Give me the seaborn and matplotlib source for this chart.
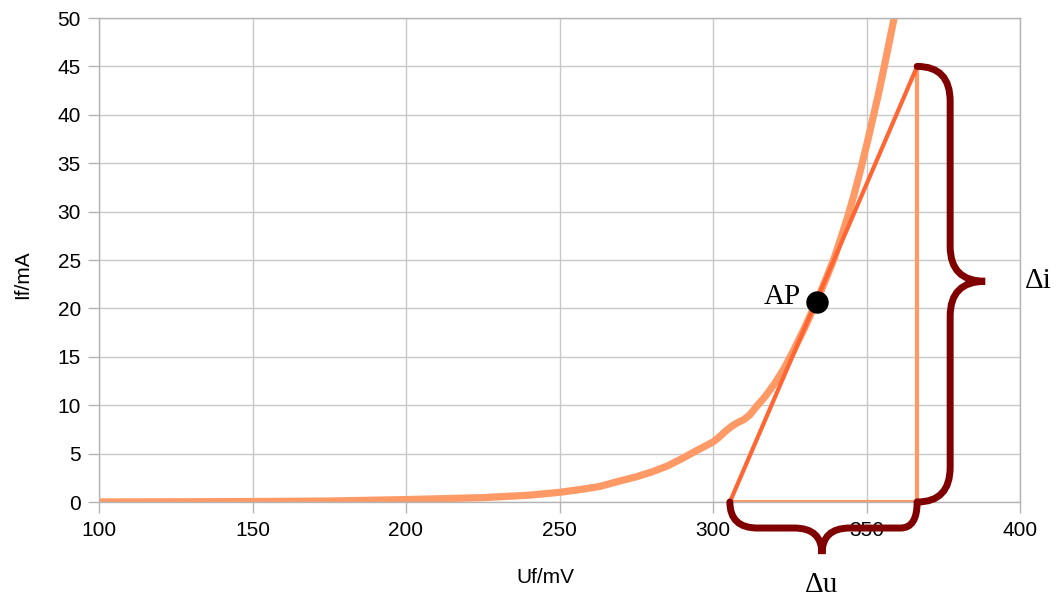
import numpy as np
import pandas as pd
import seaborn as sns
import matplotlib.pyplot as plt
from matplotlib.path import Path
from matplotlib.patches import PathPatch

# diode characteristic
u_mv = [100, 125, 150, 175, 200, 225, 240, 250, 257, 263, 270, 275, 280, 285, 290,
        294, 297, 300, 302, 304, 306, 308, 310, 312, 314, 317, 320, 323, 326, 330,
        334, 337, 339.5, 342, 344, 346, 348.3, 350.3, 352.2, 354, 355.8, 357.4, 359,
        361.5]
i_ma = [0, 0.02, 0.05, 0.1, 0.25, 0.45, 0.7, 1.0, 1.3, 1.6, 2.2, 2.6, 3.1, 3.7, 4.5,
        5.2, 5.7, 6.2, 6.7, 7.3, 7.8, 8.2, 8.5, 9.0, 9.8, 10.9, 12.2, 13.7, 15.5, 18.1,
        20.9, 23.2, 25.2, 27.6, 29.6, 31.8, 34.6, 37.2, 39.8, 42.3, 45.0, 47.5, 50.0,
        54.2]

# tangent triangle and operating point
tri_u = [305.5, 366.5]
tri_i = [0, 45]
ap_u, ap_i = 334, 20.7

curve_col = "#FF9966"
tan_col = "#FF6633"
brace_col = "#800000"

sns.set_style("whitegrid", {"grid.color": "#C8C8C8", "axes.edgecolor": "#B4B4B4",
                            "text.color": "black", "xtick.color": "black",
                            "ytick.color": "black", "axes.labelcolor": "black"})
plt.rcParams["font.family"] = ["Liberation Sans", "DejaVu Sans"]

fig = plt.figure(figsize=(10.58, 6.04), dpi=100)
ax = fig.add_axes([99 / 1058, 102 / 604, 921 / 1058, 484 / 604])

df = pd.DataFrame({"u": u_mv, "i": i_ma})
sns.lineplot(data=df, x="u", y="i", ax=ax, color=curve_col, lw=5.2,
             estimator=None, sort=False, solid_capstyle="round", solid_joinstyle="round")

# triangle: horizontal, vertical, tangent
ax.plot([tri_u[0], tri_u[1]], [tri_i[0], tri_i[0]], color=curve_col, lw=3)
ax.plot([tri_u[1], tri_u[1]], [tri_i[0], tri_i[1]], color=curve_col, lw=3)
ax.plot(tri_u, tri_i, color=tan_col, lw=3)

ax.scatter([ap_u], [ap_i], s=230, color="black", zorder=5)

ax.set_xlim(100, 400)
ax.set_ylim(0, 50)
ax.set_xticks(range(100, 401, 50))
ax.set_yticks(range(0, 51, 5))
ax.tick_params(axis="both", labelsize=15, length=8, width=1, color="#B4B4B4",
               left=True, bottom=True)
ax.tick_params(axis="x", pad=6)
ax.tick_params(axis="y", pad=5)
for s in ax.spines.values():
    s.set_linewidth(1)
ax.grid(True, lw=1)
ax.set_xlabel("Uf/mV", fontsize=15)
ax.set_ylabel("If/mA", fontsize=15)
ax.xaxis.set_label_coords(0.485, -0.136)
ax.yaxis.set_label_coords(-0.073, 0.469)

# braces (data coords derived from triangle)
x0, x1 = tri_u
y1 = tri_i[1]
px = 1 / 3.07   # mV per pixel
py = 1 / 9.67   # mA per pixel

bx = x1 + 33 * px
tip = x1 + 68 * px
ym = 22.8
r = 3.6
verts = [(x1, y1), (bx, y1), (bx, y1 - r), (bx, y1 - 2 * r),
         (bx, ym + r), (bx, ym), (tip, ym),
         (bx, ym), (bx, ym - r),
         (bx, r), (bx, 0), (x1, 0)]
codes = [Path.MOVETO, Path.CURVE3, Path.CURVE3, Path.LINETO,
         Path.LINETO, Path.CURVE3, Path.CURVE3,
         Path.CURVE3, Path.CURVE3,
         Path.LINETO, Path.CURVE3, Path.CURVE3]
ax.add_patch(PathPatch(Path(verts, codes), fill=False, ec=brace_col, lw=5,
                       clip_on=False, capstyle="round", zorder=4))

by = -26 * py
tipy = -52 * py
xm = 335.5
rx = 9
verts = [(x0, 0), (x0, by), (x0 + rx, by), (xm - rx, by),
         (xm, by), (xm, tipy), (xm, by), (xm + rx, by),
         (x1 - rx * 0.6, by), (x1, by), (x1, 0)]
codes = [Path.MOVETO, Path.CURVE3, Path.CURVE3, Path.LINETO,
         Path.CURVE3, Path.CURVE3, Path.CURVE3, Path.CURVE3,
         Path.LINETO, Path.CURVE3, Path.CURVE3]
ax.add_patch(PathPatch(Path(verts, codes), fill=False, ec=brace_col, lw=5,
                       clip_on=False, capstyle="round", zorder=4))

serif = ["Liberation Serif", "DejaVu Serif"]
ax.text(ap_u - 17 * px, ap_i + 0.5, "AP", family=serif, fontsize=21, ha="right",
        va="center")
ax.text(tip + 40 * px, ym, "\u0394i", family=serif, fontsize=21, ha="left",
        va="center", clip_on=False)
ax.text(xm, -83 * py, "\u0394u", family=serif, fontsize=21, ha="center",
        va="center", clip_on=False)

plt.savefig("out.png", dpi=100)
